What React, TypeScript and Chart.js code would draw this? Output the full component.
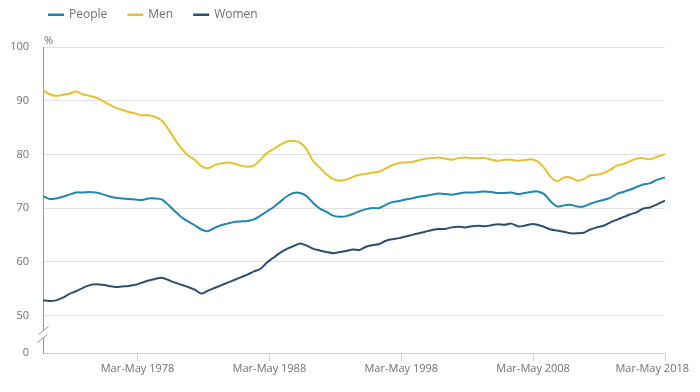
import React, { useEffect, useRef } from 'react';
import { Chart, registerables } from 'chart.js';

Chart.register(...registerables);

// Month offsets from the Jan-Mar 1971 rolling quarter
const periodMonths = [
  0, 6, 12, 18, 24, 30, 36, 42, 48, 54,
  60, 66, 72, 78, 84, 90, 96, 102, 108, 114,
  120, 126, 132, 138, 144, 150, 156, 162, 168, 174,
  180, 186, 192, 198, 204, 210, 216, 222, 228, 234,
  240, 246, 252, 258, 264, 270, 276, 282, 288, 294,
  300, 306, 312, 318, 324, 330, 336, 342, 348, 354,
  360, 366, 372, 378, 384, 390, 396, 402, 408, 414,
  420, 426, 432, 438, 444, 450, 456, 462, 468, 474,
  480, 486, 492, 498, 504, 510, 516, 522, 528, 534,
  540, 546, 552, 558, 564, 566,
];

const people = [
  72.2, 71.7, 71.8, 72.1, 72.5, 72.9, 72.9, 73.0, 72.9, 72.6,
  72.2, 71.9, 71.8, 71.7, 71.6, 71.5, 71.8, 71.8, 71.6, 70.6,
  69.4, 68.3, 67.5, 66.8, 66.0, 65.7, 66.3, 66.8, 67.1, 67.4,
  67.5, 67.6, 67.9, 68.6, 69.4, 70.2, 71.2, 72.2, 72.8, 72.8,
  72.2, 70.9, 69.9, 69.3, 68.6, 68.4, 68.5, 68.9, 69.4, 69.8,
  70.0, 70.0, 70.6, 71.1, 71.3, 71.6, 71.8, 72.1, 72.3, 72.5,
  72.7, 72.6, 72.5, 72.7, 72.9, 72.9, 73.0, 73.1, 73.0, 72.8,
  72.8, 72.9, 72.6, 72.8, 73.0, 73.1, 72.6, 71.2, 70.3, 70.5,
  70.6, 70.3, 70.3, 70.8, 71.2, 71.5, 71.9, 72.6, 73.0, 73.4,
  73.9, 74.4, 74.6, 75.2, 75.6, 75.7,
];

const men = [
  92.0, 91.2, 90.9, 91.1, 91.3, 91.7, 91.2, 90.9, 90.6, 90.0,
  89.3, 88.7, 88.3, 87.9, 87.6, 87.3, 87.3, 87.0, 86.3, 84.7,
  82.8, 81.1, 79.8, 79.0, 77.8, 77.4, 78.0, 78.3, 78.5, 78.3,
  77.9, 77.7, 77.9, 79.0, 80.3, 81.0, 81.8, 82.4, 82.5, 82.2,
  80.9, 78.7, 77.5, 76.3, 75.4, 75.1, 75.3, 75.8, 76.2, 76.4,
  76.6, 76.8, 77.4, 78.0, 78.4, 78.5, 78.6, 78.9, 79.2, 79.3,
  79.4, 79.2, 79.0, 79.3, 79.4, 79.3, 79.3, 79.3, 79.0, 78.8,
  79.0, 79.0, 78.8, 78.9, 79.1, 78.7, 77.5, 75.8, 75.0, 75.7,
  75.7, 75.1, 75.4, 76.1, 76.2, 76.5, 77.1, 77.9, 78.2, 78.7,
  79.2, 79.3, 79.1, 79.5, 79.9, 80.1,
];

const women = [
  52.8, 52.7, 52.8, 53.3, 54.0, 54.5, 55.1, 55.6, 55.8, 55.7,
  55.5, 55.3, 55.4, 55.5, 55.7, 56.1, 56.5, 56.8, 57.0, 56.6,
  56.1, 55.7, 55.3, 54.8, 54.1, 54.6, 55.1, 55.6, 56.1, 56.6,
  57.1, 57.6, 58.2, 58.7, 59.9, 60.8, 61.7, 62.4, 62.9, 63.4,
  63.0, 62.4, 62.1, 61.8, 61.6, 61.8, 62.0, 62.3, 62.2, 62.8,
  63.1, 63.3, 63.9, 64.2, 64.4, 64.7, 65.0, 65.3, 65.6, 65.9,
  66.1, 66.1, 66.4, 66.5, 66.4, 66.6, 66.7, 66.6, 66.8, 67.0,
  66.9, 67.1, 66.6, 66.7, 67.0, 66.9, 66.5, 66.0, 65.8, 65.6,
  65.3, 65.3, 65.4, 66.0, 66.4, 66.7, 67.3, 67.8, 68.3, 68.8,
  69.2, 69.9, 70.1, 70.6, 71.2, 71.4,
];

const seriesNames = ['People', 'Men', 'Women'];
const seriesColors = ['#1f87b0', '#e8c02d', '#2b4f72'];

const xTickMonths = [86, 206, 326, 446, 566];
const xTickLabels = ['Mar-May 1978', 'Mar-May 1988', 'Mar-May 1998', 'Mar-May 2008', 'Mar-May 2018'];

// the axis is broken below 50: the bottom of the axis stands for 0
const Y_BREAK_BASE = 43;
const yTickValues = [50, 60, 70, 80, 90, 100];

const FONT = "'Open Sans', 'Noto Sans', sans-serif";
const TEXT_COLOR = '#707070';

const extrasPlugin = {
  id: 'extras',
  afterDraw(chart: any) {
    const ctx = chart.ctx;
    const xs = chart.scales.x;
    const ys = chart.scales.y;
    ctx.save();

    // x labels (last one kept inside canvas)
    ctx.font = `11px ${FONT}`;
    ctx.fillStyle = TEXT_COLOR;
    ctx.textBaseline = 'middle';
    ctx.textAlign = 'center';
    xTickMonths.forEach((m, i) => {
      const px = xs.getPixelForValue(m);
      const w = ctx.measureText(xTickLabels[i]).width;
      const cx = Math.min(px, 689 - w / 2);
      ctx.fillText(xTickLabels[i], cx, xs.top + 16);
    });

    // % unit
    ctx.textAlign = 'left';
    ctx.textBaseline = 'alphabetic';
    ctx.fillText('%', ys.right + 1, chart.chartArea.top - 3);

    // axis break
    const ax = ys.right;
    ctx.fillStyle = '#ffffff';
    ctx.fillRect(ax - 2, 331, 4, 7);
    ctx.strokeStyle = '#999999';
    ctx.lineWidth = 1;
    ctx.beginPath();
    ctx.moveTo(ax - 4.5, 334.5);
    ctx.lineTo(ax + 5.5, 326.5);
    ctx.moveTo(ax - 5.5, 342.5);
    ctx.lineTo(ax + 4.5, 334.5);
    ctx.stroke();

    // legend
    ctx.font = `12px ${FONT}`;
    ctx.textBaseline = 'middle';
    let lx = 48;
    const ly = 15;
    seriesNames.forEach((name, i) => {
      ctx.fillStyle = seriesColors[i];
      ctx.fillRect(lx, ly - 1.5, 16, 2.5);
      ctx.fillStyle = TEXT_COLOR;
      ctx.fillText(name, lx + 21, ly);
      lx += 21 + ctx.measureText(name).width + 20;
    });
    ctx.restore();
  },
};

export default function App() {
  const canvasRef = useRef<HTMLCanvasElement | null>(null);

  useEffect(() => {
    document.body.style.margin = '0';
    const canvas = canvasRef.current;
    if (!canvas) return;
    const series = [people, men, women];
    const chart = new Chart(canvas, {
      type: 'line',
      data: {
        datasets: seriesNames.map((name, i) => ({
          label: name,
          data: periodMonths.map((m, j) => ({ x: m, y: series[i][j] })),
          borderColor: seriesColors[i],
          backgroundColor: seriesColors[i],
          borderWidth: 2,
          pointRadius: 0,
          tension: 0.3,
          fill: false,
        })),
      },
      options: {
        animation: false,
        responsive: false,
        maintainAspectRatio: false,
        layout: { padding: { top: 47, right: 35, left: 0, bottom: 0 } },
        plugins: {
          legend: { display: false },
          tooltip: { enabled: false },
        },
        scales: {
          x: {
            type: 'linear',
            min: 0,
            max: 566,
            afterBuildTicks: (s: any) => {
              s.ticks = xTickMonths.map((v) => ({ value: v }));
            },
            afterFit: (s: any) => {
              s.height = 39;
            },
            ticks: { display: false },
            grid: {
              drawOnChartArea: false,
              drawTicks: true,
              tickLength: 8,
              color: '#c6d0e2',
            },
            border: { color: '#c6d0e2', width: 1 },
          },
          y: {
            type: 'linear',
            min: Y_BREAK_BASE,
            max: 100,
            afterBuildTicks: (s: any) => {
              s.ticks = [Y_BREAK_BASE, ...yTickValues].map((v) => ({ value: v }));
            },
            afterFit: (s: any) => {
              s.width = 43;
            },
            ticks: {
              padding: 14,
              color: TEXT_COLOR,
              font: { family: FONT, size: 11 },
              callback: (v: any) => (v === Y_BREAK_BASE ? '0' : String(v)),
            },
            grid: {
              drawTicks: false,
              color: (c: any) => (c.tick && c.tick.value === Y_BREAK_BASE ? 'rgba(0,0,0,0)' : '#e2e2e2'),
            },
            border: { color: '#999999', width: 1 },
          },
        },
      },
      plugins: [extrasPlugin],
    });
    return () => chart.destroy();
  }, []);

  return (
    <div style={{ position: 'fixed', left: 0, top: 0, width: 700, height: 392, background: '#fff' }}>
      <canvas ref={canvasRef} width={700} height={392} />
    </div>
  );
}
